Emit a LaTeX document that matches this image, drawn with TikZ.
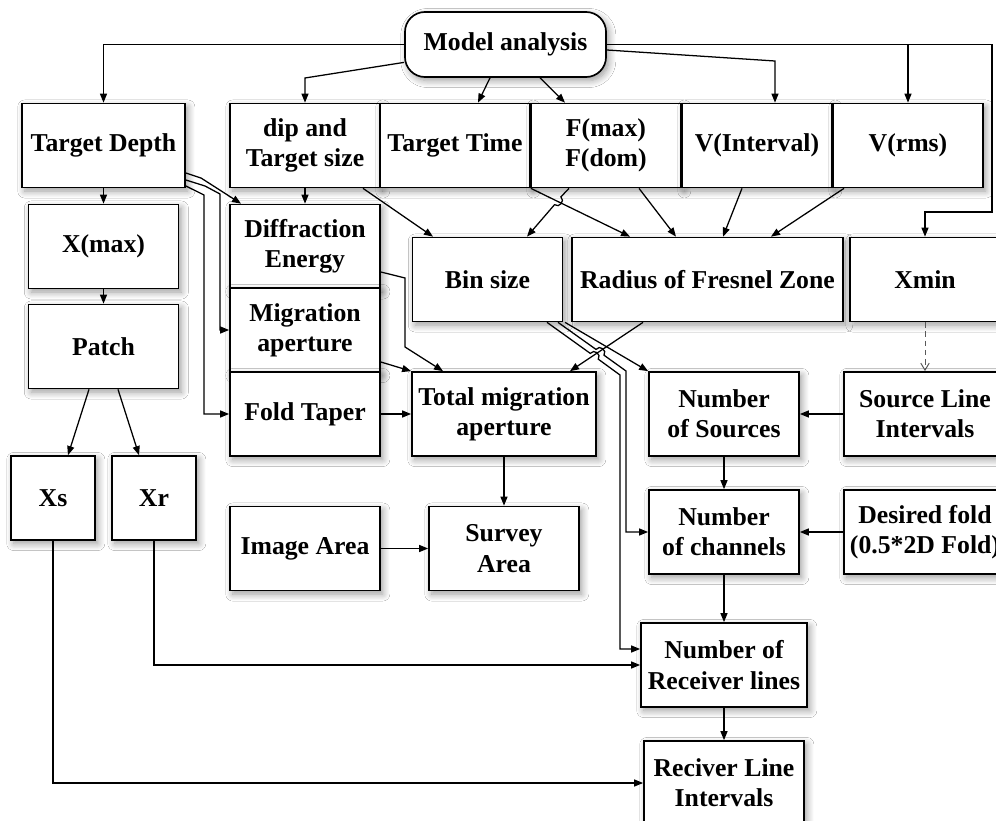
\documentclass[tikz,border=0pt]{standalone}
\usepackage{fontspec}
\setmainfont{Liberation Serif}
\usepackage{tikz}
\usetikzlibrary{arrows.meta,shadows.blur}

\begin{document}
\begin{tikzpicture}[x=0.025cm,y=-0.025cm,
    box/.style={draw,line width=1.2pt,fill=white,align=center,inner sep=1pt,
        minimum width=3.75cm,minimum height=2.1cm,
        font=\bfseries\fontsize{18.3}{21.5}\selectfont,
        blur shadow={shadow xshift=2pt,shadow yshift=-2.5pt,shadow blur radius=5pt,
            shadow blur steps=8,shadow opacity=40}},
    arr/.style={-{Triangle[length=6.4pt,width=5pt]},line width=0.9pt}]
    \useasboundingbox (0,0) rectangle (996,821);
    \clip (0,0) rectangle (996,821);
    \fill[white] (0,0) rectangle (996,821);

    % Model analysis and the first row
    \node[box,rounded corners=0.5cm,minimum width=5.025cm,minimum height=1.625cm] (model) at (505.5,44.5) {Model analysis};
    \node[box,minimum width=4.075cm] (depth) at (103.5,145.5) {Target Depth};
    \node[box] (dip) at (305,145.5) {dip and\\Target size};
    \node[box] (ttime) at (455,145.5) {Target Time};
    \node[box] (fmax) at (606,145.5) {F(max)\\F(dom)};
    \node[box] (vint) at (757,145.5) {V(Interval)};
    \node[box] (vrms) at (908,145.5) {V(rms)};

    % second row
    \node[box] (xmax) at (103.5,246.5) {X(max)};
    \node[box] (diff) at (305,246.5) {Diffraction\\Energy};
    \node[box] (bin) at (487.5,279.5) {Bin size};
    \node[box,minimum width=6.775cm] (fresnel) at (707.5,279.5) {Radius of Fresnel Zone};
    \node[box] (xmin) at (925,279.5) {Xmin};
    \node[box] (patch) at (103.5,346.5) {Patch};
    \node[box] (mig) at (305,330) {Migration\\aperture};

    % third row
    \node[box] (taper) at (305,414) {Fold Taper};
    \node[box,minimum width=4.6cm] (total) at (504,414) {Total migration\\aperture};
    \node[box] (nsrc) at (724,414) {Number\\of Sources};
    \node[box,minimum width=4.05cm] (srcint) at (925,414) {Source Line\\Intervals};
    \node[box,minimum width=2.1cm] (xs) at (53,498) {Xs};
    \node[box,minimum width=2.1cm] (xr) at (154,498) {Xr};
    \node[box] (nchan) at (724,532) {Number\\of channels};
    \node[box,minimum width=4.05cm] (fold) at (925,532) {Desired fold\\(0.5*2D Fold)};
    \node[box] (image) at (305,548.5) {Image Area};
    \node[box] (survey) at (504,548.5) {Survey\\Area};

    % receiver lines
    \node[box,minimum width=4.15cm] (nrec) at (724,665) {Number of\\Receiver lines};
    \node[box,minimum width=4cm] (rint) at (724,783) {Reciver Line\\Intervals};

    % from Model analysis
    \coordinate (split) at (vrms.north |- model.east);
    \draw[arr] (model.west) -| (depth.north);
    \draw[arr] (model.190) -- (305,78) -- (dip.north);
    \draw[arr] (model.south -| 490,0) -- (ttime.north -| 478,0);
    \draw[arr] (model.south -| 540,0) -- (fmax.north -| 565,0);
    \draw[arr] (model.east |- 0,50) -- (775,61) -- (vint.north -| 775,0);
    \draw[arr] (model.east) -- (992,44.5) |- (925,212) -- (xmin.north);
    \draw[arr] (split) -- (vrms.north);

    % left column
    \draw[arr] (depth) -- (xmax);
    \draw[arr] (xmax) -- (patch);
    \draw[arr] (patch.south -| 89,0) -- (xs.north -| 68,0);
    \draw[arr] (patch.south -| 118,0) -- (xr.north -| 139,0);
    \draw[arr] (xr.south) |- (nrec.west);
    \draw[arr] (xs.south) |- (rint.west);

    % Target Depth and dip
    \draw[arr] (depth.east |- 0,173) -- (201,178) -- (diff.north -| 241,0);
    \draw[arr] (depth.east |- 0,180) -- (205,186) -- (220,194) |- (mig.west);
    \draw[arr] (depth.east |- 0,186) -- (204,195) |- (taper.west);
    \draw[arr] (dip) -- (diff);
    \draw[arr] (dip.south -| 363,0) -- (bin.north -| 433,0);

    % towards the total migration aperture
    \draw[arr] (diff.east |- 0,272) -- (405,278) -- (405,347) -- (total.north -| 443,0);
    \draw[arr] (mig.east |- 0,362) -- (total.north west);
    \draw[arr] (taper) -- (total);
    \draw[arr] (total) -- (survey);
    \draw[arr] (image) -- (survey);

    % bin size and Fresnel zone
    \draw[arr] (ttime.south east) -- (fresnel.north -| 630,0);
    \draw[arr] (fmax.south -| 569,0) -- (560.9,196.9) .. controls +(4.6,3.8) and +(4.6,3.8) .. (554.5,204.7) -- (bin.north -| 527,0);
    \draw[arr] (fmax.south -| 639,0) -- (fresnel.north -| 676,0);
    \draw[arr] (vint.south -| 742,0) -- (fresnel.north -| 723,0);
    \draw[arr] (vrms.south -| 844,0) -- (fresnel.north -| 771,0);
    \draw[arr] (fresnel.south -| 643,0) -- (total.north -| 570,0);

    % from bin size downwards
    \draw[arr] (bin.south -| 547,0) -- (590.3,353.4) .. controls +(3.5,-4.9) and +(3.5,-4.9) .. (598.3,359.2) -- (620,375) |- (nrec.west |- 0,649);
    \draw[arr] (bin.south -| 558,0) -- (596,349.4) .. controls +(3.5,-4.9) and +(3.5,-4.9) .. (604,355.2) -- (626,371) |- (nchan.west);
    \draw[arr] (bin.south -| 565,0) -- (nsrc.north west);

    % right column
    \draw[line width=0.7pt,gray!70!black,dash pattern=on 4pt off 2.5pt,-{Straight Barb[length=5pt,width=6pt]}] (xmin) -- (srcint);
    \draw[arr] (srcint) -- (nsrc);
    \draw[arr] (nsrc) -- (nchan);
    \draw[arr] (fold) -- (nchan);
    \draw[arr] (nchan) -- (nrec);
    \draw[arr] (nrec) -- (rint);
\end{tikzpicture}
\end{document}
